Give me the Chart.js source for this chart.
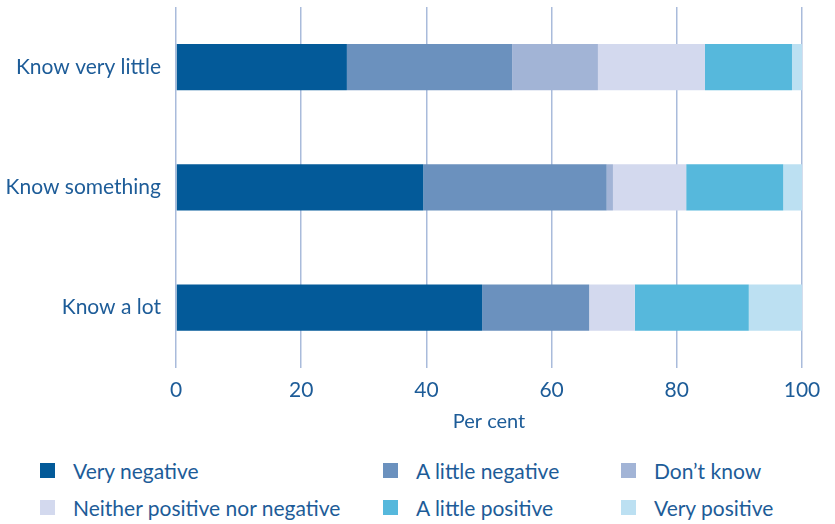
<!DOCTYPE html>
<html>
<head>
<meta charset="utf-8">
<script src="https://cdn.jsdelivr.net/npm/chart.js@4"></script>
<style>
  body { margin: 0; background: #fff; }
  .wrap { position: relative; width: 835px; height: 524px; }
  .chart-box { position: absolute; left: 0; top: 0; width: 835px; height: 440px; }
  .legend { position: absolute; left: 0; top: 452px; width: 835px; height: 72px;
    font-family: "Lato", "Noto Sans", sans-serif; font-size: 21px; color: #1d5c98; }
  .legend .item { position: absolute; display: flex; align-items: center; }
  .legend .box { width: 15px; height: 15px; margin-right: 18px; }
</style>
</head>
<body>
<div class="wrap">
  <div class="chart-box"><canvas id="chart"></canvas></div>
  <div class="legend" id="legend"></div>
</div>
<script>
const categories = ["Know very little", "Know something", "Know a lot"];
const seriesNames = [
  "Very negative",
  "A little negative",
  "Don\u2019t know",
  "Neither positive nor negative",
  "A little positive",
  "Very positive",
];
const veryNegative = [27.3, 39.5, 48.9];
const littleNegative = [26.4, 29.3, 17.1];
const dontKnow = [13.7, 1.0, 0];
const neither = [17.1, 11.7, 7.3];
const littlePositive = [13.9, 15.5, 18.2];
const veryPositive = [1.6, 3.0, 8.5];
const xTicks = [0, 20, 40, 60, 80, 100];

const colors = ["#035a99", "#6b91be", "#a2b4d6", "#d3d9ee", "#56b8dc", "#bce0f2"];
const seriesValues = [veryNegative, littleNegative, dontKnow, neither, littlePositive, veryPositive];
const textColor = "#1d5c98";
const fontFamily = '"Lato", "Noto Sans", sans-serif';

const ctx = document.getElementById("chart").getContext("2d");

const chart = new Chart(ctx, {
  type: "bar",
  data: {
    labels: categories,
    datasets: seriesNames.map((name, i) => ({
      label: name,
      data: seriesValues[i],
      backgroundColor: colors[i],
      borderWidth: 0,
      barPercentage: 0.385,
      categoryPercentage: 1,
    })),
  },
  options: {
    indexAxis: "y",
    responsive: true,
    maintainAspectRatio: false,
    animation: false,
    layout: { padding: { top: 7, right: 33, left: 0, bottom: 0 } },
    scales: {
      x: {
        stacked: true,
        min: 0,
        max: 100,
        afterBuildTicks: (scale) => {
          scale.ticks = xTicks.map((v) => ({ value: v }));
        },
        grid: { color: "#a9bbdb", lineWidth: 1.5, drawTicks: false },
        border: { display: false },
        ticks: {
          color: textColor,
          font: { family: fontFamily, size: 21 },
          padding: 10,
        },
        title: {
          display: true,
          text: "Per cent",
          color: textColor,
          font: { family: fontFamily, size: 20 },
          padding: { top: -3, bottom: 6 },
        },
      },
      y: {
        stacked: true,
        grid: { display: false, drawTicks: false },
        border: { display: false },
        ticks: {
          color: textColor,
          font: { family: fontFamily, size: 21 },
          padding: 15,
        },
        afterFit: (scale) => {
          scale.width = 176;
          scale.paddingTop = 0;
          scale.paddingBottom = 0;
        },
      },
    },
    plugins: {
      legend: { display: false },
      tooltip: { enabled: false },
    },
  },
});

// legend in 3 columns, built from the datasets
const legendEl = document.getElementById("legend");
const colX = [40, 383, 621];
const rowY = [6, 43];
chart.data.datasets.forEach((ds, i) => {
  const item = document.createElement("div");
  item.className = "item";
  item.style.left = colX[i % 3] + "px";
  item.style.top = rowY[Math.floor(i / 3)] + "px";
  const box = document.createElement("span");
  box.className = "box";
  box.style.background = ds.backgroundColor;
  const txt = document.createElement("span");
  txt.textContent = ds.label;
  item.appendChild(box);
  item.appendChild(txt);
  legendEl.appendChild(item);
});
</script>
</body>
</html>
